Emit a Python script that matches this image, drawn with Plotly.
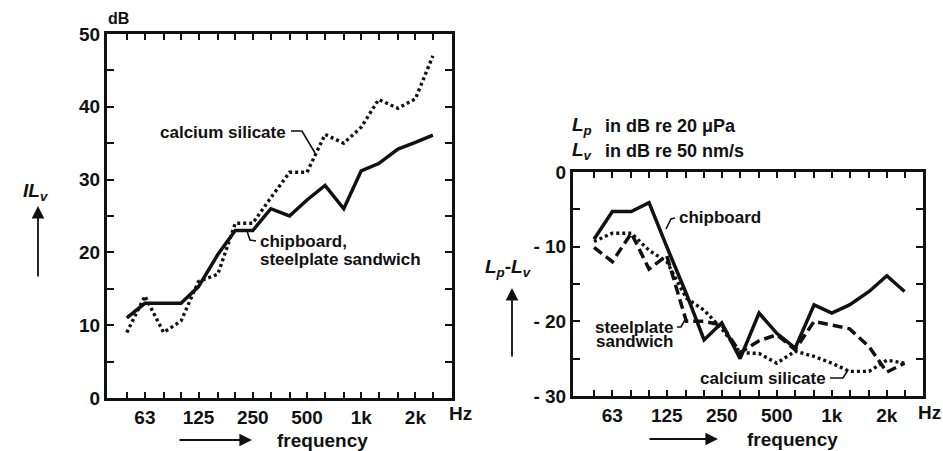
import plotly.graph_objects as go

# ---------------- data ----------------
bands = [50, 63, 80, 100, 125, 160, 200, 250, 315, 400, 500, 630, 800, 1000, 1250, 1600, 2000, 2500]
tick_labels = {63: "63", 125: "125", 250: "250", 500: "500", 1000: "1k", 2000: "2k"}

# left panel: insertion loss IL_v (dB)
il_chipboard_steel = [11, 13, 13, 13, 15.3, 19.7, 23, 23, 26, 25, 27.2, 29.2, 26, 31.2, 32.2, 34.2, 35.1, 36.1]
il_calcium = [9, 14, 9, 10.6, 16, 17, 24, 24, 27.5, 31, 31, 36.2, 35, 37.2, 41, 39.8, 41.1, 47]

# right panel: Lp - Lv (dB)
lp_chipboard = [-9, -5.3, -5.3, -4.1, -10, -16.3, -22.5, -20.2, -25, -18.9, -21.6, -23.6, -17.8, -18.9, -17.8, -16, -13.9, -16]
lp_steelplate = [-10.1, -12, -8.2, -13, -11.2, -20, -20, -20.5, -24.2, -22.6, -21.8, -23.8, -20, -20.5, -21, -23.4, -26.8, -25.6]
lp_calcium = [-9.3, -8.2, -8.2, -10.5, -12, -16.9, -18.5, -21, -24.2, -24.3, -25.6, -24, -24.7, -25.6, -26.7, -26.7, -25.2, -25.6]

W, H = 943, 451
FONT = "Liberation Sans, Arial, Helvetica, sans-serif"
INK = "#111111"


def px(x):
    return x / W


def py(y):
    return 1 - y / H


fig = go.Figure()

line_solid = dict(color=INK, width=3.5)
line_dot = dict(color=INK, width=3.4, dash="3px,3px")
line_dash = dict(color=INK, width=3.5, dash="10px,5px")

fig.add_trace(go.Scatter(x=bands, y=il_calcium, mode="lines", line=line_dot, xaxis="x", yaxis="y"))
fig.add_trace(go.Scatter(x=bands, y=il_chipboard_steel, mode="lines", line=line_solid, xaxis="x", yaxis="y"))

fig.add_trace(go.Scatter(x=bands, y=lp_calcium, mode="lines", line=line_dot, xaxis="x2", yaxis="y2"))
fig.add_trace(go.Scatter(x=bands, y=lp_steelplate, mode="lines", line=line_dash, xaxis="x2", yaxis="y2"))
fig.add_trace(go.Scatter(x=bands, y=lp_chipboard, mode="lines", line=line_solid, xaxis="x2", yaxis="y2"))

xticktext = [tick_labels.get(b, "") for b in bands]
tickfont = dict(family=FONT, size=19, color=INK, weight="bold")

xcommon = dict(
    type="log", tickmode="array", tickvals=bands, ticktext=xticktext,
    ticks="inside", ticklen=6, tickwidth=2, tickcolor=INK,
    showline=True, linewidth=3, linecolor=INK, mirror="ticks",
    showgrid=False, zeroline=False, tickfont=tickfont, fixedrange=True,
    automargin=False,
)
ycommon = dict(
    ticks="inside", ticklen=7, tickwidth=2, tickcolor=INK,
    showline=True, linewidth=3, linecolor=INK, mirror="ticks",
    showgrid=False, zeroline=False, tickfont=tickfont, tickmode="array", fixedrange=True,
    automargin=False,
)

fig.update_layout(
    template="none",
    width=W, height=H, autosize=False,
    margin=dict(l=0, r=0, t=0, b=0, pad=0),
    paper_bgcolor="white", plot_bgcolor="white",
    showlegend=False,
    xaxis=dict(domain=[px(107), px(452)], range=[1.589, 3.504], anchor="y", **xcommon),
    yaxis=dict(domain=[py(398), py(34)], range=[0, 50], anchor="x",
               tickvals=[0, 5, 10, 15, 20, 25, 30, 35, 40, 45, 50],
               ticktext=["0", "", "10", "", "20", "", "30", "", "40", "", "50"], **ycommon),
    xaxis2=dict(domain=[px(573), px(923)], range=[1.584, 3.499], anchor="y2", **xcommon),
    yaxis2=dict(domain=[py(396), py(172)], range=[-30, 0], anchor="x2",
                tickvals=[-30, -25, -20, -15, -10, -5, 0],
                ticktext=["- 30", "", "- 20", "", "- 10", "", "0"], **ycommon),
)

ann = []


def text(x, y, s, size=17, xanchor="left", weight="bold"):
    ann.append(dict(x=px(x), y=py(y), xref="paper", yref="paper", text=s, showarrow=False,
                    xanchor=xanchor, yanchor="middle",
                    font=dict(family=FONT, size=size, color=INK, weight=weight)))


def arrow(xh, yh, dx, dy):
    ann.append(dict(x=px(xh), y=py(yh), xref="paper", yref="paper", text="", showarrow=True,
                    ax=dx, ay=dy, arrowhead=2, arrowsize=1.4, arrowwidth=1.8, arrowcolor=INK))


# left panel texts
text(118, 19, "dB", size=16, xanchor="center")
text(21, 192, "<i>IL</i><sub><i>v</i></sub>", size=19)
arrow(38, 206, 0, 72)
text(447, 413, "Hz", size=19)
text(322, 440, "frequency", size=19, xanchor="center")
arrow(252, 440, -74, 0)
text(288, 132, "calcium silicate", size=17, xanchor="right")
text(258, 241, "chipboard,", size=17)
text(258, 259, "steelplate sandwich", size=17)

# right panel texts
text(570, 126, "<i>L</i><sub><i>p</i></sub>", size=19)
text(603, 126, "in dB re 20 \u03bcPa", size=18, weight="bold")
text(570, 151, "<i>L</i><sub><i>v</i></sub>", size=19)
text(603, 151, "in dB re 50 nm/s", size=18, weight="bold")
text(483, 268, "<i>L</i><sub><i>p</i></sub>-<i>L</i><sub><i>v</i></sub>", size=19)
arrow(512, 288, 0, 70)
text(916, 412, "Hz", size=19)
text(792, 439, "frequency", size=19, xanchor="center")
arrow(718, 439, -70, 0)
text(677, 217, "chipboard", size=17)
text(675, 327, "steelplate", size=17, xanchor="right")
text(675, 341, "sandwich", size=17, xanchor="right")
text(828, 378, "calcium silicate", size=17, xanchor="right")

fig.update_layout(annotations=ann)

# leader lines
shapes = []


def path(points):
    d = "M " + " L ".join(f"{px(x)},{py(y)}" for x, y in points)
    shapes.append(dict(type="path", xref="paper", yref="paper", path=d,
                       line=dict(color=INK, width=1.6)))


path([(291, 131), (302, 131), (315, 153)])
path([(247, 231), (250, 240), (256, 241)])
path([(666, 229), (671, 219), (675, 218)])
path([(677, 327), (681, 327), (686, 318)])
path([(830, 378), (843, 378), (848, 370)])

fig.update_layout(shapes=shapes)

fig.write_html(
    "out.html",
    config={"displayModeBar": False, "staticPlot": True},
    post_script="document.body.style.margin='0px';document.body.style.padding='0px';"
                "document.documentElement.style.overflow='hidden';",
)
